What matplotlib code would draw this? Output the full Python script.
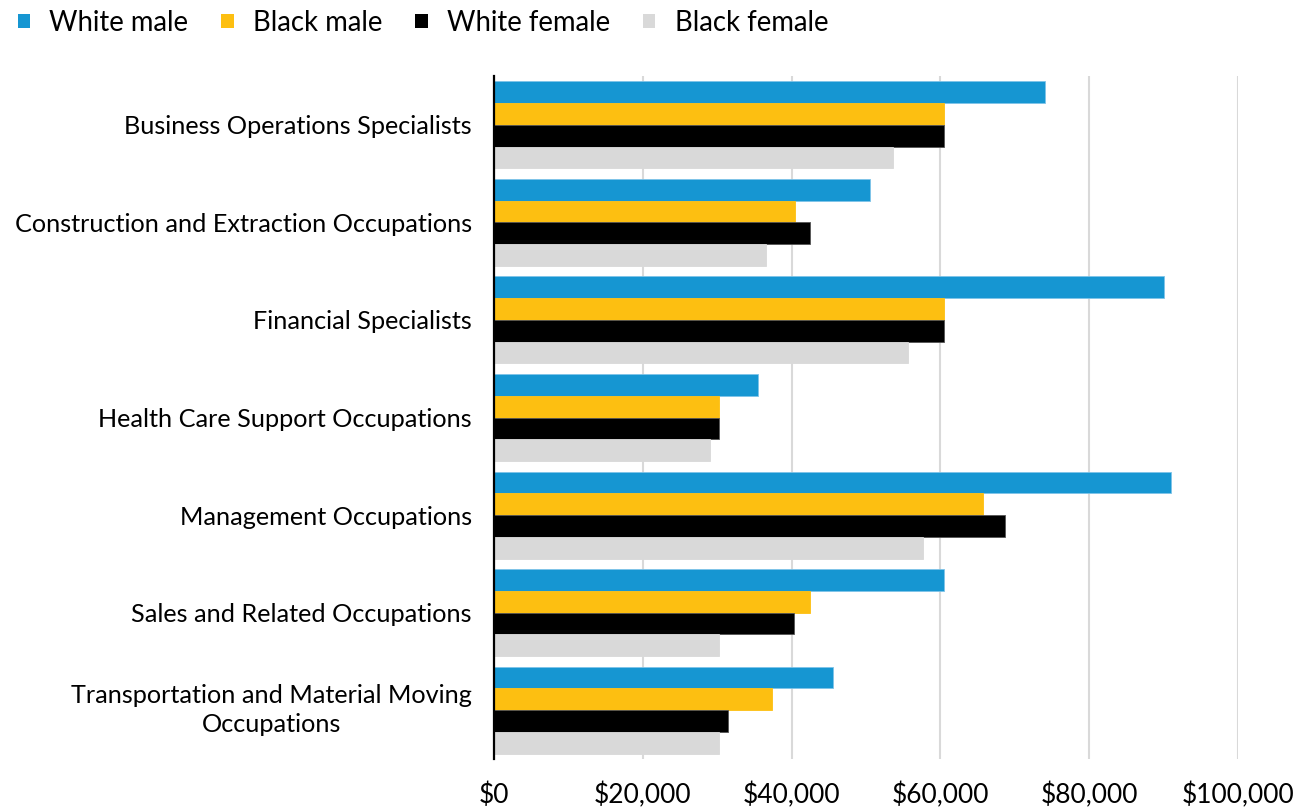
import matplotlib
matplotlib.use("Agg")
import matplotlib.pyplot as plt
import numpy as np
from matplotlib.patches import Patch

categories = [
    "Business Operations Specialists",
    "Construction and Extraction Occupations",
    "Financial Specialists",
    "Health Care Support Occupations",
    "Management Occupations",
    "Sales and Related Occupations",
    "Transportation and Material Moving\nOccupations",
]
series_names = ["White male", "Black male", "White female", "Black female"]
white_male = [74000, 50500, 90000, 35500, 91000, 60500, 45500]
black_male = [60500, 40500, 60500, 30300, 65700, 42500, 37300]
white_female = [60500, 42500, 60500, 30300, 68700, 40300, 31500]
black_female = [53600, 36600, 55600, 29000, 57600, 30300, 30300]
x_ticks = [0, 20000, 40000, 60000, 80000, 100000]
x_tick_labels = ["$0", "$20,000", "$40,000", "$60,000", "$80,000", "$100,000"]

colors = ["#1696D2", "#FDBF11", "#000000", "#D9D9D9"]
edges = ["#7FC4E8", "#FDBF11", "#555555", "#D9D9D9"]

plt.rcParams["font.family"] = ["Lato", "DejaVu Sans"]

fig = plt.figure(figsize=(12.96, 8.07), dpi=100)
ax = fig.add_axes([494/1296, 1-759/807, (1238-494)/1296, (759-76)/807])

data = [white_male, black_male, white_female, black_female]
n = len(categories)
y = np.arange(n)
bh = 0.223
for i, (vals, c, ec) in enumerate(zip(data, colors, edges)):
    offs = (i - 1.5) * bh
    ax.barh(y + offs, vals, height=bh, color=c, edgecolor=ec, linewidth=0.6, zorder=3)

ax.set_ylim(n - 0.5, -0.5)
ax.set_xlim(0, 100000)
ax.set_yticks(y)
ax.set_yticklabels(categories, fontsize=18.2, multialignment="center", linespacing=1.3)
for lbl in ax.get_yticklabels():
    if "\n" in lbl.get_text():
        lbl.set_verticalalignment("center")
ax.set_xticks(x_ticks)
ax.set_xticklabels(x_tick_labels, fontsize=19)
ax.tick_params(axis="both", length=0)
ax.tick_params(axis="y", pad=16)
ax.tick_params(axis="x", pad=17)
ax.grid(axis="x", color="#D9D9D9", linewidth=1.5, zorder=0)
ax.set_axisbelow(True)
for s in ["top", "right", "bottom"]:
    ax.spines[s].set_visible(False)
ax.spines["left"].set_color("black")
ax.spines["left"].set_linewidth(1.6)
ax.spines["left"].set_zorder(4)

handles = [Patch(facecolor=c, edgecolor="none") for c in colors]
fig.legend(handles, series_names, loc="upper left", bbox_to_anchor=(0.003, 1.005),
           ncol=4, frameon=False, fontsize=19.8, handlelength=0.45, handleheight=0.45,
           handletextpad=0.7, columnspacing=1.2, borderaxespad=0.1)

fig.savefig("out.png", dpi=100)
